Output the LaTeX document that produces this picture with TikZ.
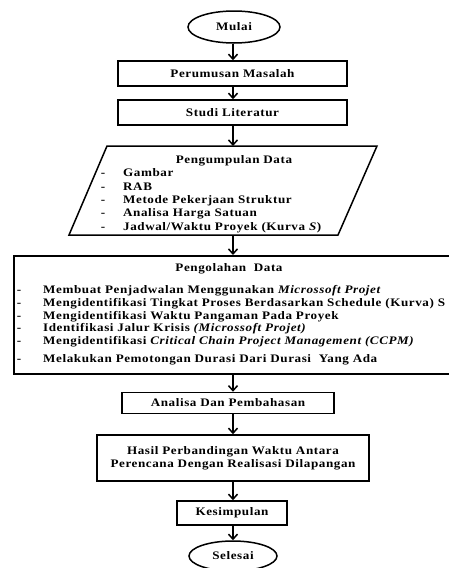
\documentclass[tikz,border=0pt]{standalone}
\usepackage{fontspec}
\setmainfont[FakeStretch=1.14,LetterSpace=5]{Liberation Serif}
\usetikzlibrary{shapes.geometric,arrows.meta}
\tikzset{
  box/.style={draw, line width=1.5pt, inner sep=0pt, font=\bfseries\fontsize{11.5}{13}\selectfont},
  term/.style={draw, ellipse, line width=1.5pt, inner sep=0pt, font=\bfseries\fontsize{11.5}{13}\selectfont},
  txt/.style={inner sep=0pt, font=\bfseries\fontsize{11.5}{13}\selectfont},
  item/.style={txt, anchor=base west},
  bullet/.style={txt, anchor=base},
  arr/.style={-{Straight Barb[length=5pt,width=9pt,line width=1.5pt]}, line width=1.8pt}
}
\begin{document}
\begin{tikzpicture}[x=1pt,y=-1pt]
\useasboundingbox (0,0) rectangle (449,568);
\coordinate (ax) at (233,0);
% terminals and boxes
\node[term, minimum width=92, minimum height=32] (mulai) at (234,27) {Mulai};
\node[box, minimum width=229, minimum height=25] (rumus) at (232.5,73.5) {Perumusan Masalah};
\node[box, minimum width=229, minimum height=25] (studi) at (232.5,112.5) {Studi Literatur};
% parallelogram
\draw[line width=1.5pt, line join=miter] (107,146) -- (377,146) -- (338,235) -- (69,235) -- cycle;
\coordinate (pdtop) at (233,146);
\coordinate (pdbot) at (233,235);
\node[txt, anchor=base] (pdtitle) at (234,163) {Pengumpulan Data};
\foreach \y/\t [count=\i] in {176/Gambar,190/RAB,203/Metode Pekerjaan Struktur,216/Analisa Harga Satuan}{
  \node[bullet] (pdd\i) at (103,\y) {-};
  \node[item] (pdi\i) at (123,\y) {\t};
}
\node[bullet] (pdd5) at (103,230) {-};
\node[item] (pdi5) at (123,230) {Jadwal/Waktu Proyek (Kurva \textit{S})};
% pengolahan
\node[box, anchor=north west, minimum width=460, minimum height=118] (olah) at (13,255) {};
\node[txt, anchor=base] (oltitle) at (229,271) {Pengolahan\ \ Data};
\foreach \y [count=\i] in {293,306,319,331,344,362}{
  \node[bullet] (old\i) at (19,\y) {-};
}
\node[item] (oli1) at (43,293) {Membuat Penjadwalan Menggunakan \textit{Microssoft Projet}};
\node[item] (oli2) at (43,306) {Mengidentifikasi Tingkat Proses Berdasarkan Schedule (Kurva) S};
\node[item] (oli3) at (43,319) {Mengidentifikasi Waktu Pangaman Pada Proyek};
\node[item] (oli4) at (43,331) {Identifikasi Jalur Krisis \textit{(Microssoft Projet)}};
\node[item] (oli5) at (43,344) {Mengidentifikasi \textit{Critical Chain Project Management (CCPM)}};
\node[item] (oli6) at (43,362) {Melakukan Pemotongan Durasi Dari Durasi\ \ Yang Ada};
% lower part
\node[box, minimum width=212, minimum height=21] (analisa) at (228,403) {Analisa Dan Pembahasan};
\node[box, minimum width=272, minimum height=46, align=center] (hasil) at (233,458) {Hasil Perbandingan Waktu Antara\\Perencana Dengan Realisasi Dilapangan};
\node[box, minimum width=110, minimum height=24] (kesimpulan) at (232,513) {Kesimpulan};
\node[term, minimum width=88, minimum height=30] (selesai) at (233,556) {Selesai};
% arrows
\draw[arr] (mulai.south -| ax) -- (rumus.north -| ax);
\draw[arr] (rumus.south -| ax) -- (studi.north -| ax);
\draw[arr] (studi.south -| ax) -- (pdtop);
\draw[arr] (pdbot) -- (olah.north -| ax);
\draw[arr] (olah.south -| ax) -- (analisa.north -| ax);
\draw[arr] (analisa.south -| ax) -- (hasil.north -| ax);
\draw[arr] (hasil.south -| ax) -- (kesimpulan.north -| ax);
\draw[arr] (kesimpulan.south -| ax) -- (selesai.north -| ax);
\end{tikzpicture}
\end{document}
